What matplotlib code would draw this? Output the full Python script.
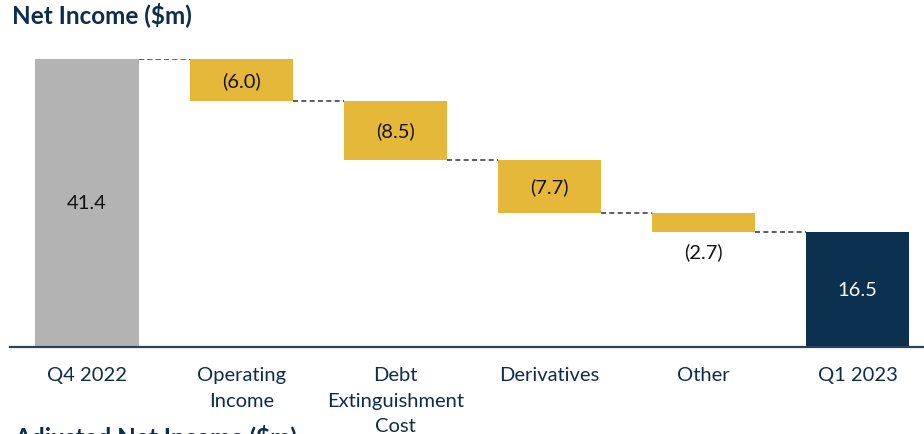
import matplotlib.pyplot as plt

plt.rcParams['font.family'] = ['Lato', 'DejaVu Sans']

categories = ['Q4 2022', 'Operating\nIncome', 'Debt\nExtinguishment\nCost', 'Derivatives', 'Other', 'Q1 2023']
changes = [41.4, -6.0, -8.5, -7.7, -2.7, 16.5]
labels = ['41.4', '(6.0)', '(8.5)', '(7.7)', '(2.7)', '16.5']

navy = '#0b3050'
gold = '#e6b83a'
grey = '#b3b3b3'

fig = plt.figure(figsize=(9.24, 4.35), dpi=100)
ax = fig.add_axes([10 / 924, 87 / 435, 914 / 924, 288 / 435])

width = 0.67
xs = list(range(len(categories)))

# waterfall: first and last bars are totals, middle ones float
running = 0.0
tops = []
for i, v in enumerate(changes):
    if i == 0:
        bottom, height, color = 0, v, grey
        running = v
    elif i == len(changes) - 1:
        bottom, height, color = 0, v, navy
    else:
        bottom, height, color = running + v, -v, gold
        running += v
    tops.append(running if i < len(changes) - 1 else v)
    ax.bar(i, height, width, bottom=bottom, color=color, zorder=2)

    if i == 4:
        ax.text(i, bottom - 2.7, labels[i], ha='center', va='center', fontsize=14.5, color='#111111')
    else:
        ax.text(i, bottom + height / 2, labels[i], ha='center', va='center', fontsize=14.5,
                color='white' if color == navy else '#111111')

# dashed connectors between bars
for i in range(len(changes) - 1):
    level = tops[i]
    ax.plot([i + width / 2, i + 1 - width / 2], [level, level], ls=(0, (3, 2)),
            color='#444444', lw=1.2, zorder=1)

ax.set_xlim(-0.5, 5.43)
ax.set_ylim(0, 41.4)
ax.set_xticks(xs)
ax.set_xticklabels(categories, fontsize=14.5, color='#0b2d4e', linespacing=1.6)
ax.tick_params(axis='x', length=0, pad=14)
ax.set_yticks([])
for side in ['top', 'right', 'left']:
    ax.spines[side].set_visible(False)
ax.spines['bottom'].set_color('#2e4256')
ax.spines['bottom'].set_linewidth(1.6)

fig.text(12 / 924, 1 - 15 / 435, 'Net Income ($m)', ha='left', va='center',
         fontsize=17.5, fontweight='bold', color='#0b2d4e')
fig.text(14 / 924, 1 - 425 / 435, 'Adjusted Net Income ($m)', ha='left', va='top',
         fontsize=17.5, fontweight='bold', color='#0b2d4e')

fig.savefig('out.png', dpi=100)
